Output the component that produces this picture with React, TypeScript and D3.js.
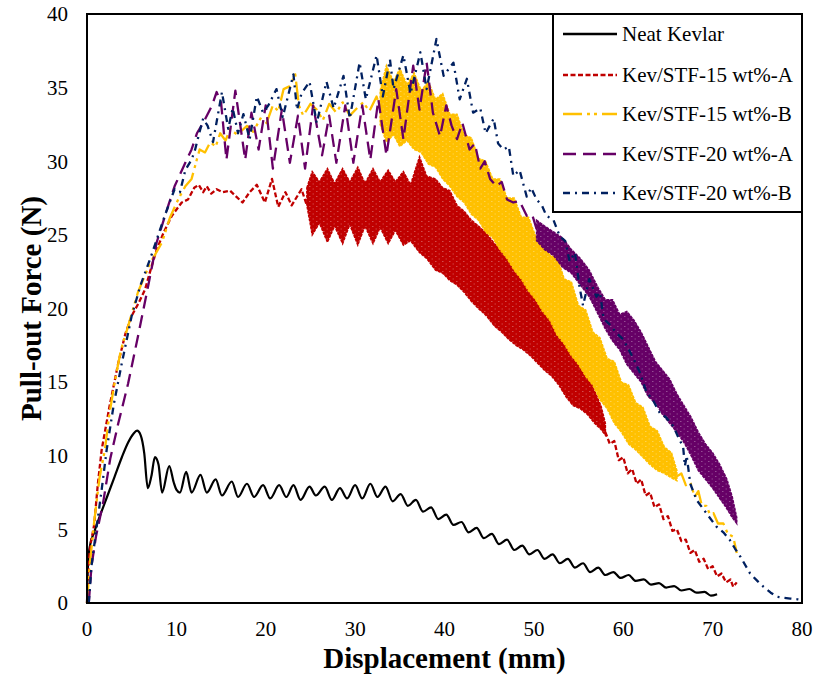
import React from "react";
import * as d3 from "d3";

type P = [number, number];
type B = [number, number, number];

const xTicks = [0, 10, 20, 30, 40, 50, 60, 70, 80];
const yTicks = [0, 5, 10, 15, 20, 25, 30, 35, 40];
const seriesNames = ["Neat Kevlar", "Kev/STF-15 wt%-A", "Kev/STF-15 wt%-B", "Kev/STF-20 wt%-A", "Kev/STF-20 wt%-B"];
const seriesColors = ["#000000", "#C00000", "#FFC000", "#660066", "#002060"];
const seriesDash = ["none", "5,2.5", "19,5,3,4,3,5", "13,7", "7,5,2,5"];

const neatKevlar: P[] = [
  [0, 0], [0.1, 2.5], [0.3, 3.8], [0.8, 4.8], [1.5, 6.0], [2.3, 7.3], [3.1, 8.6], [3.9, 9.9], [4.6, 10.9], [5.2, 11.5], [5.6, 11.7], [6.0, 11.4], [6.4, 10.2], [6.8, 7.8], [7.2, 8.6], [7.6, 9.9], [8.0, 9.4], [8.4, 7.5], [9.2, 9.3], [9.7, 8.2], [10.0, 7.7], [10.4, 7.5], [11.1, 8.9], [11.7, 7.5], [12.7, 8.7], [13.4, 7.5], [14.4, 8.4], [15.1, 7.3], [16.2, 8.25], [16.9, 7.2], [17.9, 8.1], [18.7, 7.2], [19.7, 8.0], [20.5, 7.1], [21.5, 8.0], [22.3, 7.2], [23.1, 8.0], [23.9, 7.0], [24.9, 7.9], [25.6, 7.3], [26.6, 7.9], [27.4, 7.0], [28.3, 7.8], [29.1, 7.1], [30.0, 8.0], [30.8, 7.1], [31.7, 8.1], [32.5, 7.2], [33.4, 7.9], [34.2, 6.9], [35.1, 7.4], [35.9, 6.6], [36.8, 7.0], [37.6, 6.2], [38.5, 6.5], [39.3, 5.7], [40.2, 6.0], [41.0, 5.3], [41.9, 5.5], [42.7, 4.8], [43.6, 5.1], [44.4, 4.4], [45.3, 4.7], [46.1, 4.0], [47.0, 4.3], [47.8, 3.6], [48.7, 3.9], [49.5, 3.3], [50.4, 3.6], [51.2, 3.0], [52.1, 3.3], [52.9, 2.7], [53.8, 3.0], [54.6, 2.4], [55.5, 2.7], [56.3, 2.1], [57.2, 2.4], [58.0, 1.9], [58.9, 2.1], [59.7, 1.7], [60.6, 1.9], [61.4, 1.5], [62.3, 1.6], [63.1, 1.25], [64.0, 1.35], [64.8, 1.05], [65.7, 1.15], [66.5, 0.85], [67.4, 0.95], [68.2, 0.7], [69.1, 0.75], [69.8, 0.5], [70.5, 0.6],
];

const stf15ALine: P[] = [
  [0, 0], [0.15, 2.5], [0.4, 4.0], [0.8, 5.3], [1.2, 8.0], [1.64, 10.4], [2.5, 13.3], [3.5, 16.3], [4.3, 18.3], [5.0, 19.5], [5.8, 20.4], [6.5, 21.3], [7.2, 22.8], [7.8, 24.0], [8.6, 25.2], [9.5, 26.3], [10.6, 27.2], [11.3, 27.4], [12.0, 28.2], [12.5, 28.4], [13.0, 27.9], [13.4, 28.3], [13.9, 27.8], [14.5, 28.1], [15.2, 27.9], [16.0, 28.0], [16.7, 27.6], [17.4, 27.2], [18.2, 27.9], [19.0, 28.4], [19.9, 27.2], [20.7, 28.8], [21.4, 26.9], [22.2, 27.9], [22.9, 27.0], [24.0, 28.1], [24.6, 27.0],
];
const stf15ABand: B[] = [
  [24.6, 27.0, 28.2], [25.2, 25.0, 29.3], [26.0, 25.8, 28.6], [26.9, 24.5, 29.5], [27.7, 25.6, 28.5], [28.6, 24.4, 29.5], [29.4, 25.7, 28.6], [30.3, 24.3, 29.6], [31.1, 25.6, 28.5], [32.0, 24.4, 29.5], [32.8, 25.5, 28.6], [33.7, 24.4, 29.4], [34.5, 25.3, 28.6], [35.4, 24.3, 29.3], [36.2, 24.6, 28.4], [37.2, 23.8, 30.3], [38.0, 23.4, 29.0], [39.0, 22.6, 28.8], [39.8, 22.4, 28.2], [40.6, 21.9, 28.0], [41.4, 21.6, 27.0], [42.2, 21.1, 26.6], [43.0, 20.5, 26.0], [43.8, 20.0, 25.6], [44.7, 19.5, 25.1], [45.6, 18.8, 24.4], [46.4, 18.4, 24.0], [47.2, 17.9, 23.3], [48.0, 17.5, 22.9], [48.8, 17.2, 22.2], [49.6, 16.8, 21.7], [50.4, 16.3, 20.9], [51.2, 15.8, 20.2], [52.0, 15.4, 19.3], [52.8, 14.8, 18.5], [53.6, 14.0, 17.6], [54.4, 13.4, 17.0], [55.2, 13.2, 16.2], [56.0, 12.8, 15.6], [56.8, 12.2, 14.4], [57.5, 11.8, 13.4], [58.0, 11.4, 12.2],
];
const stf15ATail: P[] = [
  [57.5, 12.6], [58.0, 11.6], [58.5, 10.8], [59.0, 11.0], [59.5, 9.7], [60.0, 9.9], [60.5, 8.8], [61.0, 9.1], [61.5, 8.1], [62.0, 8.4], [62.5, 7.3], [63.0, 7.5], [63.5, 6.5], [64.0, 6.7], [64.5, 5.7], [65.0, 5.9], [65.5, 4.9], [66.0, 5.0], [66.5, 4.2], [67.0, 4.3], [67.5, 3.4], [68.0, 3.6], [68.5, 2.8], [69.0, 3.0], [69.5, 2.3], [70.0, 2.5], [70.5, 1.8], [71.0, 2.0], [71.5, 1.4], [72.0, 1.6], [72.3, 1.1], [72.7, 1.4],
];

const stf15BLine: P[] = [
  [0, 0], [0.3, 2.5], [0.8, 5.5], [1.4, 8.5], [2.0, 10.4], [2.5, 12.8], [3.1, 15.0], [3.8, 17.2], [4.6, 18.8], [5.7, 21.1], [7.0, 23.0], [8.4, 24.5], [9.3, 26.2], [10.2, 27.4], [11.0, 28.3], [11.7, 28.8], [12.6, 30.8], [13.2, 30.6], [13.8, 31.3], [14.4, 31.0], [14.9, 31.9], [15.5, 31.4], [16.0, 32.2], [16.8, 31.8], [17.9, 32.4], [18.6, 32.0], [19.4, 32.9], [20.1, 32.6], [20.8, 33.8], [21.4, 33.4], [22.0, 34.9], [22.7, 35.1], [23.3, 35.9], [23.7, 33.8], [24.2, 33.1], [25.0, 33.9], [25.7, 33.5], [26.4, 32.8], [27.1, 33.9], [27.9, 33.3], [28.6, 34.0], [29.4, 33.1], [30.2, 33.6], [30.9, 34.0], [31.6, 33.4], [32.4, 34.4], [32.8, 33.6],
];
const stf15BBand: B[] = [
  [32.8, 32.5, 34.8], [33.5, 31.3, 36.5], [34.3, 31.8, 35.4], [35.0, 31.0, 36.3], [35.8, 31.4, 35.2], [36.6, 30.8, 36.0], [37.4, 30.6, 34.8], [38.2, 29.8, 35.4], [39.0, 29.6, 34.2], [39.8, 28.8, 34.6], [40.6, 28.3, 33.2], [41.4, 27.6, 33.2], [42.2, 27.2, 31.8], [43.0, 26.4, 31.6], [43.8, 26.0, 30.2], [44.6, 25.2, 30.0], [45.4, 24.8, 28.8], [46.2, 24.0, 28.8], [47.0, 23.4, 27.5], [47.8, 22.6, 27.5], [48.6, 22.0, 26.2], [49.4, 21.2, 26.2], [50.2, 20.6, 24.9], [51.0, 19.8, 24.9], [51.8, 19.2, 23.6], [52.6, 18.2, 23.5], [53.4, 17.6, 22.0], [54.2, 16.8, 21.8], [55.0, 16.2, 20.2], [55.8, 15.4, 19.9], [56.6, 14.8, 18.4], [57.4, 13.8, 18.0], [58.2, 13.2, 16.6], [59.0, 12.2, 16.4], [59.8, 11.6, 15.0], [60.6, 10.8, 14.8], [61.4, 10.4, 13.6], [62.2, 9.9, 13.3], [63.0, 9.4, 12.0], [63.8, 9.0, 11.7], [64.6, 8.8, 10.6], [65.4, 8.5, 10.2], [66.0, 8.3, 9.0],
];
const stf15BTail: P[] = [
  [66.0, 8.6], [66.5, 8.8], [67.0, 8.0], [67.5, 8.2], [68.0, 7.2], [68.4, 7.6], [68.8, 6.6], [69.3, 6.6], [69.7, 6.0], [70.1, 6.1], [70.6, 5.4], [71.2, 5.4], [71.7, 4.7], [72.3, 4.5], [72.7, 3.4],
];

const stf20ALine: P[] = [
  [0.2, 0], [0.5, 2.5], [1.0, 4.5], [1.8, 6.8], [2.6, 9.8], [3.5, 12.2], [4.6, 14.9], [5.7, 18.1], [6.9, 21.7], [7.8, 24.5], [9.1, 27.0], [9.8, 28.3], [11.0, 29.9], [11.7, 30.8], [12.3, 31.9], [13.0, 32.6], [14.0, 33.8], [14.5, 34.7], [15.0, 34.0], [15.6, 30.1], [16.6, 34.8], [17.7, 30.1], [18.4, 33.3], [19.2, 30.8], [20.0, 33.8], [20.8, 29.5], [21.8, 33.5], [22.7, 29.9], [23.6, 33.1], [24.4, 29.5], [25.3, 33.8], [26.3, 30.4], [27.1, 33.1], [27.9, 29.9], [28.9, 33.8], [29.8, 29.9], [30.8, 33.8], [31.7, 30.1], [32.6, 34.2], [33.5, 30.4], [34.6, 34.9], [35.4, 31.5], [36.5, 36.5], [37.2, 33.5], [38.0, 36.7], [38.7, 33.3], [39.5, 31.7], [40.2, 33.8], [40.8, 32.4], [41.4, 31.5], [42.0, 32.6], [42.8, 30.8], [43.4, 31.2], [44.0, 29.5], [44.5, 30.0], [45.1, 28.8], [45.8, 28.3], [46.4, 28.6], [47.0, 27.4], [47.7, 27.2], [48.4, 27.3], [49.2, 26.3], [49.8, 26.4], [50.3, 25.4],
];
const stf20ABand: B[] = [
  [50.3, 24.6, 26.0], [51.2, 24.0, 25.6], [52.2, 23.6, 25.2], [53.2, 22.8, 24.8], [54.2, 22.4, 24.0], [55.2, 21.6, 23.4], [56.2, 20.8, 22.6], [57.2, 19.6, 21.4], [58.0, 18.6, 20.6], [58.8, 17.8, 20.6], [59.6, 17.2, 19.6], [60.4, 16.2, 19.8], [61.2, 15.6, 19.2], [62.0, 15.0, 18.4], [62.8, 14.0, 17.4], [63.6, 13.6, 16.4], [64.4, 12.8, 15.8], [65.2, 12.2, 15.2], [66.0, 11.6, 14.2], [66.8, 10.9, 13.4], [67.6, 10.0, 12.6], [68.4, 9.0, 11.6], [69.2, 8.4, 10.8], [70.0, 7.8, 10.2], [70.8, 7.1, 9.4], [71.6, 6.4, 8.4], [72.2, 5.8, 7.2], [72.7, 5.4, 5.8],
];

const stf20BLine: P[] = [
  [0.2, 0], [0.5, 2.5], [1.0, 4.8], [1.6, 7.5], [2.2, 10.4], [3.0, 13.5], [3.9, 16.3], [5.0, 19.5], [6.0, 21.6], [7.2, 23.6], [8.7, 26.3], [9.8, 28.1], [10.4, 27.9], [11.0, 29.4], [11.7, 30.1], [12.1, 30.8], [12.6, 32.0], [13.0, 32.9], [13.5, 32.4], [14.1, 31.3], [15.1, 34.7], [15.8, 32.2], [16.3, 33.6], [16.9, 31.9], [17.5, 33.2], [18.2, 31.5], [19.0, 34.4], [19.7, 33.3], [20.3, 33.8], [21.2, 34.9], [21.9, 33.0], [23.1, 35.9], [23.5, 33.5], [24.0, 34.6], [24.9, 35.4], [25.7, 32.6], [26.8, 35.4], [27.6, 33.6], [28.7, 35.8], [29.4, 32.9], [30.5, 36.7], [31.2, 34.2], [32.4, 37.2], [33.1, 34.4], [33.9, 36.9], [34.3, 34.9], [35.4, 37.2], [36.2, 34.6], [37.3, 37.4], [38.0, 34.9], [39.1, 38.3], [39.9, 35.8], [41.0, 36.7], [41.7, 34.2], [42.5, 35.6], [43.2, 33.3], [44.0, 33.6], [44.6, 31.9], [45.5, 32.9], [46.0, 31.2], [46.6, 30.8], [47.2, 31.0], [47.7, 29.0], [48.4, 29.4], [49.2, 27.6], [49.7, 28.2], [50.3, 27.4], [50.9, 27.0], [51.4, 26.3], [52.2, 26.0], [52.9, 24.9], [53.5, 24.6], [54.0, 23.2], [54.6, 23.8], [55.1, 21.5], [55.5, 20.2], [56.2, 22.0], [57.0, 20.8], [57.4, 21.1], [57.8, 19.3], [58.5, 18.9], [59.3, 18.3], [60.0, 17.9], [60.8, 17.0], [61.3, 16.4], [61.9, 15.6], [62.6, 14.3], [63.3, 13.8], [64.1, 12.9], [64.8, 12.6], [65.6, 12.0], [66.2, 11.2], [66.7, 10.6], [66.9, 9.3], [67.1, 10.0], [67.5, 8.1], [68.2, 7.0], [69.3, 6.1], [70.4, 5.2], [71.2, 4.8], [71.9, 4.3], [72.5, 3.7], [73.1, 3.15], [74.2, 2.0], [75.0, 1.5], [75.7, 1.1], [76.5, 0.7], [77.2, 0.43], [78.0, 0.35], [78.7, 0.3], [79.5, 0.25], [80.1, 0.2],
];

const W = 814;
const H = 680;
const M = { left: 87, right: 802, top: 14, bottom: 603 };
const FONT = "Liberation Serif";

export default function App() {
  const x = d3.scaleLinear().domain([0, 80]).range([M.left, M.right]);
  const y = d3.scaleLinear().domain([0, 40]).range([M.bottom, M.top]);
  const line = d3.line<P>().x((d) => x(d[0])).y((d) => y(d[1]));
  const smooth = d3.line<P>().x((d) => x(d[0])).y((d) => y(d[1])).curve(d3.curveMonotoneX);
  const band = d3.area<B>().x((d) => x(d[0])).y0((d) => y(d[1])).y1((d) => y(d[2]));

  const lines: { data: P[]; i: number }[] = [
    { data: stf15ALine, i: 1 }, { data: stf15ATail, i: 1 },
    { data: stf15BLine, i: 2 }, { data: stf15BTail, i: 2 },
    { data: stf20ALine, i: 3 },
    { data: stf20BLine, i: 4 },
  ];
  const bands: { data: B[]; i: number }[] = [
    { data: stf15ABand, i: 1 }, { data: stf15BBand, i: 2 }, { data: stf20ABand, i: 3 },
  ];

  const legendY = [34, 75, 114, 154, 193];
  const txt = { fontFamily: FONT } as React.CSSProperties;

  return (
    <svg width={W} height={H} style={{ display: "block", position: "absolute", left: 0, top: 0, background: "#fff" }}>
      <defs>
        {seriesColors.map((c, i) => (
          <pattern key={i} id={`spk${i}`} width={7} height={5} patternUnits="userSpaceOnUse">
            <rect width={7} height={5} fill={c} />
            <rect x={1} y={1} width={1.5} height={1} fill="#fff" opacity={0.3} />
            <rect x={4.5} y={3.5} width={1.5} height={1} fill="#fff" opacity={0.25} />
          </pattern>
        ))}
      </defs>
      <rect x={0} y={0} width={W} height={H} fill="#fff" />

      <path d={smooth(neatKevlar) || ""} fill="none" stroke={seriesColors[0]} strokeWidth={2.2} />

      {[1, 2, 3, 4].map((si) => (
        <g key={si}>
          {bands.filter((b) => b.i === si).map((b, k) => (
            <path key={`b${k}`} d={band(b.data) || ""} fill={`url(#spk${si})`} stroke={seriesColors[si]} strokeWidth={1.5} strokeDasharray="3,1" />
          ))}
          {lines.filter((l) => l.i === si).map((l, k) => (
            <path key={`l${k}`} d={line(l.data) || ""} fill="none" stroke={seriesColors[si]} strokeWidth={2.3} strokeDasharray={seriesDash[si]} strokeLinejoin="round" />
          ))}
        </g>
      ))}

      <rect x={M.left} y={M.top} width={M.right - M.left} height={M.bottom - M.top} fill="none" stroke="#000" strokeWidth={2} />

      {yTicks.map((t) => (
        <text key={`y${t}`} x={68} y={y(t)} dy="0.35em" textAnchor="end" style={txt} fontSize={21} fill="#000">{t}</text>
      ))}
      {xTicks.map((t) => (
        <text key={`x${t}`} x={x(t)} y={636} textAnchor="middle" style={txt} fontSize={21} fill="#000">{t}</text>
      ))}

      <text x={(M.left + M.right) / 2} y={668} textAnchor="middle" style={txt} fontWeight="bold" fontSize={29} fill="#000">Displacement (mm)</text>
      <text transform={`translate(41, ${(M.top + M.bottom) / 2}) rotate(-90)`} textAnchor="middle" style={txt} fontWeight="bold" fontSize={29} fill="#000">Pull-out Force (N)</text>

      <rect x={553} y={M.top} width={M.right - 553} height={198} fill="#fff" stroke="#000" strokeWidth={2} />
      {seriesNames.map((n, i) => (
        <g key={n}>
          <line x1={563} x2={617} y1={legendY[i]} y2={legendY[i]} stroke={seriesColors[i]} strokeWidth={2.3} strokeDasharray={seriesDash[i]} />
          <text x={622} y={legendY[i]} dy="0.35em" style={txt} fontSize={21} fill="#000">{n}</text>
        </g>
      ))}
    </svg>
  );
}
